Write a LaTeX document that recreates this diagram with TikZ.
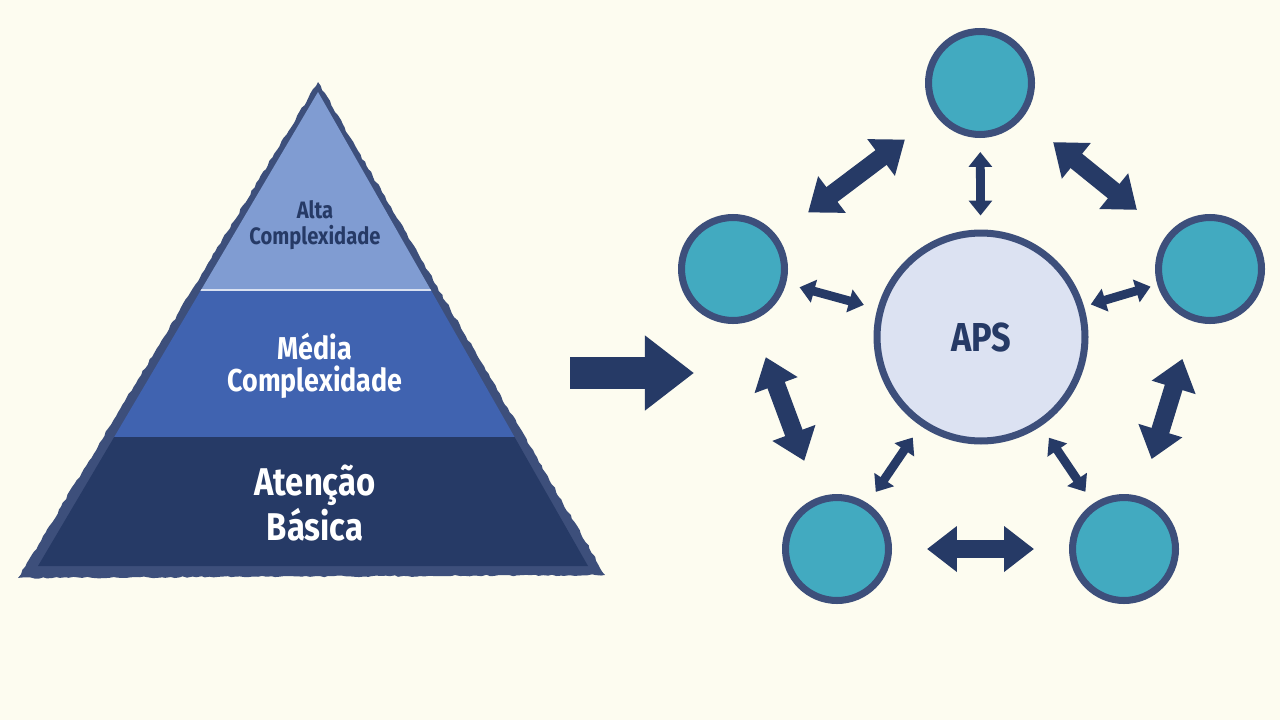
\documentclass[tikz,border=0pt]{standalone}
\usepackage{fontspec}
\setmainfont{Fira Sans}[FakeStretch=0.85]
\usepackage{xcolor}
\usetikzlibrary{arrows.meta}
\usetikzlibrary{decorations.pathmorphing}

\definecolor{cream}{RGB}{253,252,240}
\definecolor{navy}{RGB}{38,58,102}
\definecolor{rim}{RGB}{61,79,123}
\definecolor{tealfill}{RGB}{66,170,192}
\definecolor{apsfill}{RGB}{220,226,242}
\definecolor{tierone}{RGB}{128,156,210}
\definecolor{tiertwo}{RGB}{64,99,176}
\definecolor{tierthree}{RGB}{38,58,102}

\begin{document}
\begin{tikzpicture}[x=0.02cm,y=-0.02cm,
      every circle node/.style={draw=rim,line width=4pt,inner sep=0mm},
      outer/.style={circle,fill=tealfill,minimum size=2.06cm},
      bigarrow/.style={{Triangle[width=25pt,length=17pt]}-{Triangle[width=25pt,length=17pt]},
        draw=navy,line width=10.5pt,shorten <=0.78cm,shorten >=0.78cm},
      smallarrow/.style={{Triangle[width=13pt,length=8.5pt]}-{Triangle[width=13pt,length=8.5pt]},
        draw=navy,line width=5pt,shorten <=0.28cm,shorten >=0.28cm},
      rough/.style={decorate,decoration={random steps,segment length=2.5pt,amplitude=0.5pt}}]

      \fill[cream] (0,0) rectangle (1280,720);
      \useasboundingbox (0,0) rectangle (1280,720);

      % pyramid
      \fill[rim,rough] (18,578) -- (318,82) -- (605,575) -- cycle;
      \begin{scope}
        \clip (318,92) -- (38,566) -- (588,566) -- cycle;
        \fill[tierone] (0,0) rectangle (700,290);
        \fill[tiertwo] (0,290) rectangle (700,437);
        \fill[tierthree] (0,437) rectangle (700,600);
        \draw[white!70!tierone,line width=1pt] (0,290) -- (700,290);
      \end{scope}

      \node[text=navy,align=center,font=\fontsize{13.5}{14.5}\selectfont\bfseries]
        (alta) at (315,225) {Alta\\Complexidade};
      \node[text=white,align=center,font=\fontsize{18}{18}\selectfont\bfseries]
        (media) at (315,366) {Média\\Complexidade};
      \node[text=white,align=center,font=\fontsize{22}{23}\selectfont\bfseries]
        (basica) at (315,503) {Atenção\\Básica};

      \coordinate (from) at (570,373);
      \coordinate (to) at (694,373);
      \draw[navy,line width=18.5pt,-{Triangle[width=41pt,length=28pt]}] (from) -- (to);

      % network
      \node[circle,fill=apsfill,minimum size=4.16cm,line width=4.5pt,text=navy,
        font=\fontsize{23}{23}\selectfont\bfseries] (aps) at (981,337) {APS};
      \node[outer] (ntop) at (980,83) {};
      \node[outer] (nleft) at (733,269) {};
      \node[outer] (nright) at (1210,269) {};
      \node[outer] (nbl) at (837,549) {};
      \node[outer] (nbr) at (1124,549) {};

      \draw[bigarrow] (nleft) -- (ntop);
      \draw[bigarrow] (ntop) -- (nright);
      \draw[bigarrow] (nleft) -- (nbl);
      \draw[bigarrow] (nright) -- (nbr);
      \draw[bigarrow,shorten <=0.7cm,shorten >=0.7cm] (nbl) -- (nbr);

      \foreach \n in {ntop,nleft,nbl,nbr}
        \draw[smallarrow] (\n) -- (aps);
      \draw[smallarrow,shorten <=0.14cm,shorten >=0.14cm] (nright) -- (aps);
    \end{tikzpicture}
\end{document}
